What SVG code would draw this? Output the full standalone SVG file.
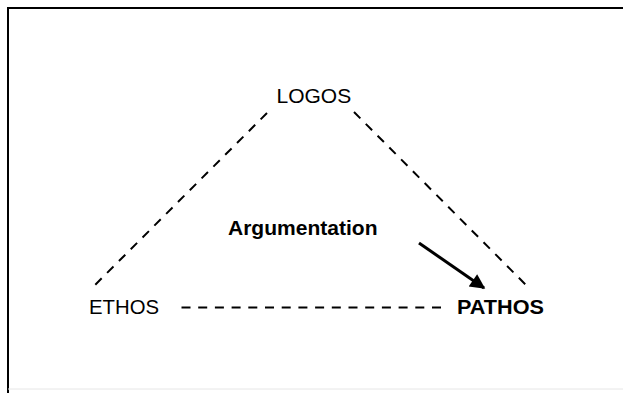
<svg xmlns="http://www.w3.org/2000/svg" width="623" height="393" viewBox="0 0 623 393">
<style>
.t{font-family:"Liberation Sans",Arial,sans-serif;font-size:21px;fill:#000}
.b{font-weight:bold}
.d{stroke:#000;stroke-width:2;stroke-dasharray:9 7.7;fill:none}
</style>
<defs>
<marker id="ah" viewBox="0 0 10 10" refX="9" refY="5" markerWidth="5.5" markerHeight="5" orient="auto" markerUnits="strokeWidth">
<path d="M0,0 L10,5 L0,10 z" fill="#000"/>
</marker>
</defs>
<rect x="0" y="0" width="623" height="393" fill="#fff"/>
<path d="M8,393 V8 H623" fill="none" stroke="#000" stroke-width="2"/>
<line x1="8" y1="389" x2="623" y2="389" stroke="#e6e6e6" stroke-width="1"/>
<g id="connectors">
<line class="d" x1="267" y1="113" x2="95" y2="285"/>
<line class="d" x1="354" y1="112" x2="527" y2="286"/>
<line class="d" x1="181.5" y1="307.5" x2="441" y2="307.5"/>
<line x1="419" y1="243" x2="484" y2="288" stroke="#000" stroke-width="3" marker-end="url(#ah)"/>
</g>
<g id="logos"><text class="t" x="276.5" y="103">LOGOS</text></g>
<g id="ethos"><text class="t" x="89" y="314" textLength="70" lengthAdjust="spacingAndGlyphs">ETHOS</text></g>
<g id="pathos"><text class="t b" x="457" y="313.5" textLength="87" lengthAdjust="spacingAndGlyphs">PATHOS</text></g>
<g id="argumentation"><text class="t b" x="228" y="235" textLength="149.5" lengthAdjust="spacingAndGlyphs">Argumentation</text></g>
</svg>
